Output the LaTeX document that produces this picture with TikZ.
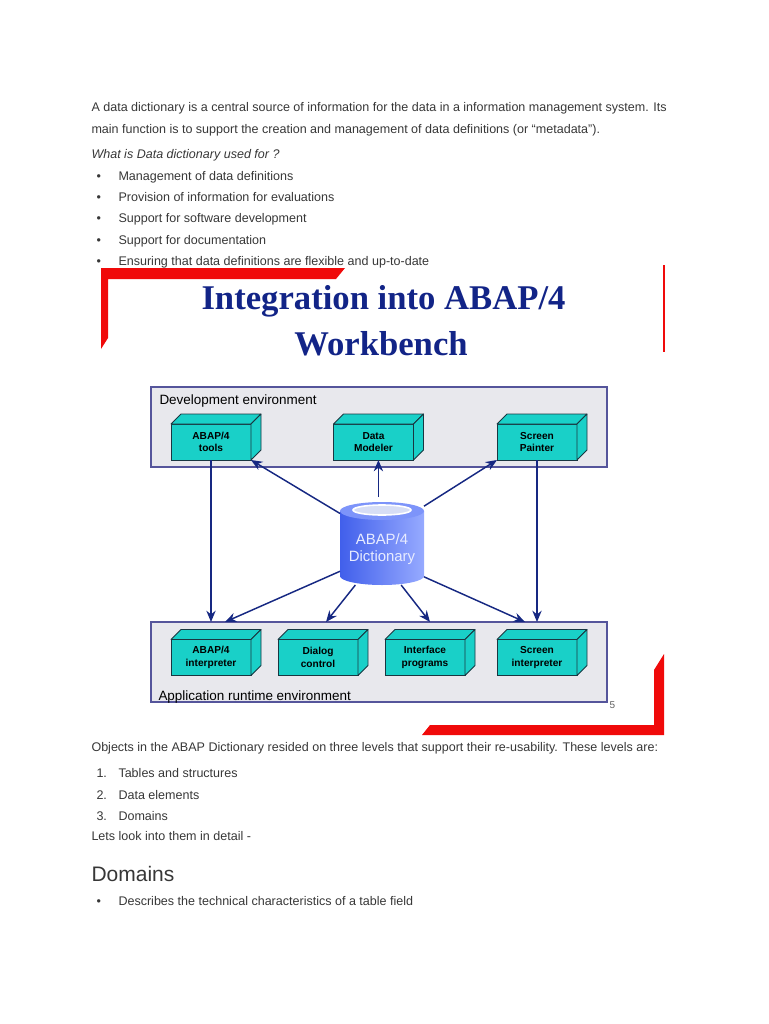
\documentclass[tikz,border=0pt]{standalone}
\usepackage{fontspec}
\setmainfont{Liberation Sans}
\newfontfamily\titlefont{Liberation Serif}
\usetikzlibrary{arrows.meta,calc}

\definecolor{bodytext}{RGB}{55,55,55}
\definecolor{titleblue}{RGB}{18,36,135}
\definecolor{slidered}{RGB}{240,10,10}
\definecolor{envline}{RGB}{85,85,155}
\definecolor{envfill}{RGB}{232,232,237}
\definecolor{cubefill}{RGB}{25,208,200}
\definecolor{cubeline}{RGB}{25,55,65}
\definecolor{arrowblue}{RGB}{22,40,130}
\definecolor{cylleft}{RGB}{65,95,235}
\definecolor{cylright}{RGB}{150,170,255}
\definecolor{cyltop}{RGB}{125,148,250}
\definecolor{cylhole}{RGB}{215,222,245}

\tikzset{every picture/.style={line width=0.75pt}}
\tikzset{
  bodyline/.style={anchor=base west, inner sep=0pt, text=bodytext, font=\fontsize{9.4pt}{11pt}\selectfont},
  titleline/.style={anchor=base, inner sep=0pt, text=titleblue, font=\titlefont\bfseries\fontsize{26pt}{30pt}\selectfont},
  envbox/.style={draw=envline, fill=envfill, line width=1.5pt, minimum width=342pt, minimum height=60pt, inner sep=0pt, outer sep=0pt},
  envlabel/.style={anchor=base west, inner sep=0pt, font=\fontsize{10.1pt}{12pt}\selectfont},
  cubefront/.style={draw=cubeline, fill=cubefill, line width=0.6pt, minimum width=60pt, minimum height=27pt, inner sep=0pt, outer sep=0pt, align=center, font=\bfseries\fontsize{7.6pt}{9.2pt}\selectfont},
  cubeface/.style={draw=cubeline, fill=cubefill, line width=0.6pt, line join=round},
  dictlabel/.style={inner sep=0pt, align=center, text={rgb,255:red,232;green,236;blue,255}, font=\fontsize{11.2pt}{13.2pt}\selectfont},
  arr/.style={draw=arrowblue, line width=1.1pt, -{Stealth[length=8.5pt,width=7pt]}},
}

\begin{document}
\begin{tikzpicture}[x=0.75pt,y=0.75pt,yscale=-1,xscale=1]
\useasboundingbox (0,0) rectangle (768,1024);

%Shape: slide frame, red corners
\fill[slidered] (101,268) -- (345,268) -- (336,279) -- (108,279) -- (108,338) -- (101,349) -- cycle;
\draw[slidered, line width=1.2pt] (664,265) -- (664,352);
\fill[slidered] (422,735) -- (664,735) -- (664,654) -- (654,670) -- (654,725) -- (430,725) -- cycle;

%Text: intro
\node[bodyline] (intro1) at (91,112) {A data dictionary is a central source of information for the data in a information management system. Its};
\node[bodyline] (intro2) at (91,133) {main function is to support the creation and management of data definitions (or “metadata”).};
\node[bodyline, font=\itshape\fontsize{9.4pt}{11pt}\selectfont] (usedfor) at (91,158) {What is Data dictionary used for ?};
%Text: bullets
\node[bodyline] (b1) at (96,180) {•};
\node[bodyline] (u1) at (118,180) {Management of data definitions};
\node[bodyline] (b2) at (96,201) {•};
\node[bodyline] (u2) at (118,201) {Provision of information for evaluations};
\node[bodyline] (b3) at (96,222.5) {•};
\node[bodyline] (u3) at (118,222.5) {Support for software development};
\node[bodyline] (b4) at (96,244) {•};
\node[bodyline] (u4) at (118,244) {Support for documentation};
\node[bodyline] (b5) at (96,265) {•};
\node[bodyline] (u5) at (118,265) {Ensuring that data definitions are flexible and up-to-date};

%Text: slide title
\node[titleline] (title1) at (383.5,309) {Integration into ABAP/4};
\node[titleline] (title2) at (381,355) {Workbench};

%Shape: Rectangle, development environment
\node[envbox] (devenv) at (379,427) {};
\node[envlabel] (devlabel) at (159,404) {Development environment};
%Shape: Rectangle, application runtime environment
\node[envbox] (runenv) at (379,662) {};

%Shape: Cube
\node[cubefront] (atools) at (211,442) {ABAP/4\\tools};
\draw[cubeface] (atools.north west) -- ++(10,-10) -- ++(80,0) -- (atools.north east) -- cycle;
\draw[cubeface] (atools.north east) -- ++(10,-10) -- ++(0,36) -- (atools.south east) -- cycle;
%Shape: Cube
\node[cubefront] (dmod) at (373.5,442) {Data\\Modeler};
\draw[cubeface] (dmod.north west) -- ++(10,-10) -- ++(80,0) -- (dmod.north east) -- cycle;
\draw[cubeface] (dmod.north east) -- ++(10,-10) -- ++(0,36) -- (dmod.south east) -- cycle;
%Shape: Cube
\node[cubefront] (spaint) at (537,442) {Screen\\Painter};
\draw[cubeface] (spaint.north west) -- ++(10,-10) -- ++(80,0) -- (spaint.north east) -- cycle;
\draw[cubeface] (spaint.north east) -- ++(10,-10) -- ++(0,36) -- (spaint.south east) -- cycle;
%Shape: Cube
\node[cubefront] (aint) at (211,657.5) {ABAP/4\\interpreter};
\draw[cubeface] (aint.north west) -- ++(10,-10) -- ++(80,0) -- (aint.north east) -- cycle;
\draw[cubeface] (aint.north east) -- ++(10,-10) -- ++(0,36) -- (aint.south east) -- cycle;
%Shape: Cube
\node[cubefront] (dlg) at (318,657.5) {Dialog\\control};
\draw[cubeface] (dlg.north west) -- ++(10,-10) -- ++(80,0) -- (dlg.north east) -- cycle;
\draw[cubeface] (dlg.north east) -- ++(10,-10) -- ++(0,36) -- (dlg.south east) -- cycle;
%Shape: Cube
\node[cubefront] (ifp) at (425,657.5) {Interface\\programs};
\draw[cubeface] (ifp.north west) -- ++(10,-10) -- ++(80,0) -- (ifp.north east) -- cycle;
\draw[cubeface] (ifp.north east) -- ++(10,-10) -- ++(0,36) -- (ifp.south east) -- cycle;
%Shape: Cube
\node[cubefront] (sint) at (537,657.5) {Screen\\interpreter};
\draw[cubeface] (sint.north west) -- ++(10,-10) -- ++(80,0) -- (sint.north east) -- cycle;
\draw[cubeface] (sint.north east) -- ++(10,-10) -- ++(0,36) -- (sint.south east) -- cycle;

\node[envlabel] (runlabel) at (158,700) {Application runtime environment};
\node[anchor=base, inner sep=0pt, text={rgb,255:red,95;green,95;blue,95}, font=\fontsize{7.5pt}{9pt}\selectfont] (pageno) at (612.5,708) {5};

%Shape: Can
\shade[left color=cylleft, right color=cylright] (382,576) ellipse [x radius=42, y radius=9];
\shade[left color=cylleft, right color=cylright] (340,511) rectangle (424,576);
\fill[cyltop] (382,511) ellipse [x radius=42, y radius=9];
\filldraw[fill=cylhole, draw=white, line width=1.2pt] (382,510) ellipse [x radius=29, y radius=5];
\node[inner sep=0pt, outer sep=0pt, minimum width=63pt, minimum height=61.5pt] (dict) at (382,544) {};
\node[dictlabel] (dicttext) at (382,549) {ABAP/4\\Dictionary};

%Straight Lines
\draw[arr] (atools.south) -- (atools.south |- runenv.north);
\draw[arr] (spaint.south) -- (spaint.south |- runenv.north);
\draw[arr] (dict.144) -- (atools.south east);
\draw[arr, shorten <=4.5pt] (dict.95) -- (dict.95 |- dmod.south);
\draw[arr] (dict.42) -- (spaint.south west);
\draw[arr] (dict.213) -- ($(aint.north |- runenv.north)+(14,0)$);
\draw[arr] (dict.237) -- ($(dlg.north |- runenv.north)+(8,0)$);
\draw[arr] (dict.295) -- ($(ifp.north |- runenv.north)+(5,0)$);
\draw[arr] (dict.322) -- ($(sint.north |- runenv.north)+(-12,0)$);

%Text: after the slide
\node[bodyline] (objects) at (91,751.5) {Objects in the ABAP Dictionary resided on three levels that support their re-usability. These levels are:};
\node[bodyline] (n1) at (96,777) {1.};
\node[bodyline] (l1) at (118,777) {Tables and structures};
\node[bodyline] (n2) at (96,799) {2.};
\node[bodyline] (l2) at (118,799) {Data elements};
\node[bodyline] (n3) at (96,820) {3.};
\node[bodyline] (l3) at (118,820) {Domains};
\node[bodyline] (detail) at (91,840.5) {Lets look into them in detail -};
\node[bodyline, font=\fontsize{15.75pt}{18pt}\selectfont] (domhead) at (91,881.7) {Domains};
\node[bodyline] (b6) at (96,905) {•};
\node[bodyline] (d1) at (118,905) {Describes the technical characteristics of a table field};

\end{tikzpicture}
\end{document}
